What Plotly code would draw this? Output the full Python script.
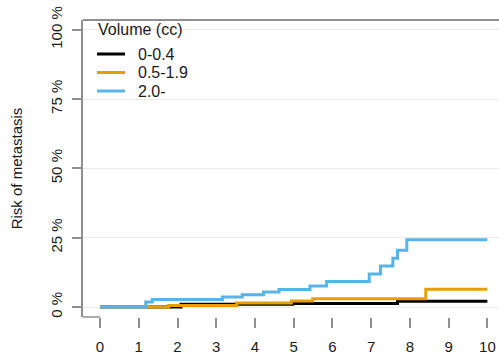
import plotly.graph_objects as go

# Data (time in years, cumulative risk in %)
groups = ["0-0.4", "0.5-1.9", "2.0-"]
colors = ["#000000", "#E69F00", "#56B4E9"]
legend_title = "Volume (cc)"

time_small = [0, 2.09, 4.97, 7.68, 10]
risk_small = [0, 1.0, 1.25, 2.1, 2.1]

time_mid = [0, 1.77, 3.53, 4.94, 5.49, 8.41, 10]
risk_mid = [0, 0.55, 1.45, 2.2, 3.0, 6.4, 6.4]

time_large = [0, 1.18, 1.35, 3.16, 3.67, 4.22, 4.62, 5.42, 5.85, 6.95, 7.24, 7.56, 7.68, 7.92, 10]
risk_large = [0, 1.8, 2.7, 3.6, 4.4, 5.4, 6.3, 7.6, 9.2, 11.9, 14.8, 17.6, 20.5, 24.3, 24.3]

x_ticks = list(range(0, 11))
y_ticks = [0, 25, 50, 75, 100]
y_tick_labels = ["0 %", "25 %", "50 %", "75 %", "100 %"]

x_range = [-0.44, 10.30]
y_range = [-3.6, 103.5]

FONT = "Liberation Sans, Arial, sans-serif"
FRAME = "#8f8f8f"
W, H = 499, 358
ML, MR, MT, MB = 83, 0, 20, 41
PW, PH = W - ML - MR, H - MT - MB


def px(xp):
    return (xp - ML) / PW


def py(yp):
    return (H - MB - yp) / PH


fig = go.Figure()
for name, col, t, r in zip(groups, colors,
                           [time_small, time_mid, time_large],
                           [risk_small, risk_mid, risk_large]):
    fig.add_trace(go.Scatter(x=t, y=r, mode="lines", name=name, showlegend=False,
                             line=dict(color=col, width=3, shape="hv")))

# manual legend (compact spacing like the reference)
shapes = [
    dict(type="line", xref="paper", yref="paper", x0=0, x1=1, y0=1, y1=1,
         line=dict(color=FRAME, width=2), layer="above"),
    dict(type="line", xref="x", yref="paper", x0=x_range[0], x1=0, y0=0, y1=0,
         line=dict(color=FRAME, width=1.5), layer="above"),
]
annotations = [dict(text=legend_title, xref="paper", yref="paper", x=px(96), y=py(30),
                    xanchor="left", yanchor="middle", showarrow=False,
                    font=dict(size=16, color="#1a1a1a"))]
item_y = [54, 72.5, 91]
for name, col, yy in zip(groups, colors, item_y):
    shapes.append(dict(type="line", xref="paper", yref="paper", x0=px(97), x1=px(125),
                       y0=py(yy), y1=py(yy), line=dict(color=col, width=3)))
    annotations.append(dict(text=name, xref="paper", yref="paper", x=px(136), y=py(yy),
                            xanchor="left", yanchor="middle", showarrow=False,
                            font=dict(size=16, color="#1a1a1a")))

fig.update_layout(
    width=W, height=H,
    margin=dict(l=ML, r=MR, t=MT, b=MB),
    paper_bgcolor="white", plot_bgcolor="white",
    font=dict(family=FONT, size=15, color="#1a1a1a"),
    showlegend=False,
    xaxis=dict(
        range=x_range, tickvals=x_ticks, ticktext=[str(v) for v in x_ticks],
        showgrid=False, zeroline=False, showline=False, automargin=False,
        ticks="outside", ticklen=10, tickwidth=1.5, tickcolor=FRAME,
        ticklabelstandoff=6,
        tickfont=dict(size=15, color="#1a1a1a"),
    ),
    yaxis=dict(
        range=y_range, tickvals=y_ticks, ticktext=y_tick_labels,
        showgrid=True, gridcolor="#ebebeb", gridwidth=1, automargin=False,
        zeroline=False, showline=True, linecolor=FRAME, linewidth=1.5,
        ticks="outside", ticklen=9, tickwidth=1.5, tickcolor=FRAME,
        tickangle=-90, ticklabelstandoff=4,
        tickfont=dict(size=15, color="#1a1a1a"),
        title=dict(text="Risk of metastasis", font=dict(size=15, color="#1a1a1a"), standoff=22),
    ),
    shapes=shapes,
    annotations=annotations,
)

fig.write_html("out.html", config={"displayModeBar": False},
               post_script="document.body.style.margin='0';document.body.style.overflow='hidden';")
